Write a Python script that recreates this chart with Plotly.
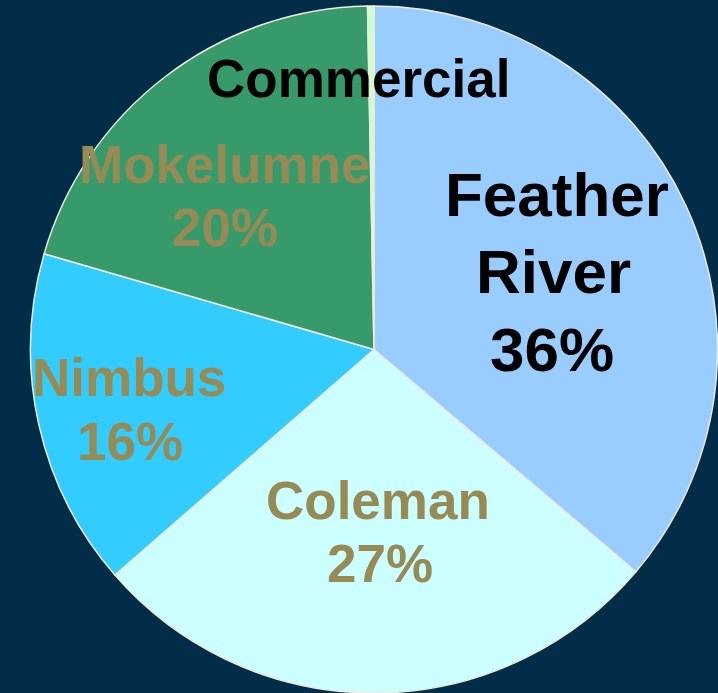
import plotly.graph_objects as go

# ---- data ----
labels = ["Feather River", "Coleman", "Nimbus", "Mokelumne", "Commercial"]
values = [36.2, 27.4, 15.9, 20.2, 0.3]
show_pct = [True, True, True, True, False]

# ---- styles / layout ----
W, H = 718, 693
BG = "#022D48"
slice_colors = ["#99CCFF", "#CCFFFF", "#33CCFF", "#379A6A", "#CCFFCC"]
text_colors = ["#000000", "#968A55", "#968A55", "#968A55", "#000000"]
font_sizes = [62, 53, 53, 53, 53]
# per-line text centres in pixels (x, y from top)
line_pos = [
    [(557, 194), (553, 271), (552, 349)],
    [(378, 500), (380, 563)],
    [(129, 377), (130, 441)],
    [(225, 164), (225, 228)],
    [(358, 79)],
]
FONT = "Liberation Sans, Arial, sans-serif"

cx, cy, r = 374, 350, 344

fig = go.Figure(
    go.Pie(
        labels=labels,
        values=values,
        sort=False,
        direction="clockwise",
        rotation=0,
        textinfo="none",
        hoverinfo="label+percent",
        marker=dict(colors=slice_colors, line=dict(color="#F0EADC", width=1.5)),
        domain=dict(x=[(cx - r) / W, min(1.0, (cx + r) / W)],
                    y=[max(0.0, 1 - (cy + r) / H), 1 - (cy - r) / H]),
        showlegend=False,
    )
)

total = sum(values)
annotations = []
for i, lab in enumerate(labels):
    lines = lab.split(" ")
    if show_pct[i]:
        lines = lines + [f"{round(values[i] / total * 100)}%"]
    for line, (px, py) in zip(lines, line_pos[i]):
        annotations.append(dict(
            text=f"<b>{line}</b>", x=px / W, y=1 - py / H,
            xref="paper", yref="paper", xanchor="center", yanchor="middle",
            showarrow=False,
            font=dict(family=FONT, size=font_sizes[i], color=text_colors[i]),
        ))

fig.update_layout(
    width=W, height=H,
    margin=dict(l=0, r=0, t=0, b=0),
    paper_bgcolor=BG,
    plot_bgcolor=BG,
    annotations=annotations,
    font=dict(family=FONT),
)

fig.write_html(
    "out.html",
    config={"displayModeBar": False},
    post_script=(
        "document.body.style.margin='0';"
        "document.body.style.padding='0';"
        f"document.body.style.background='{BG}';"
        "document.documentElement.style.overflow='hidden';"
    ),
)
